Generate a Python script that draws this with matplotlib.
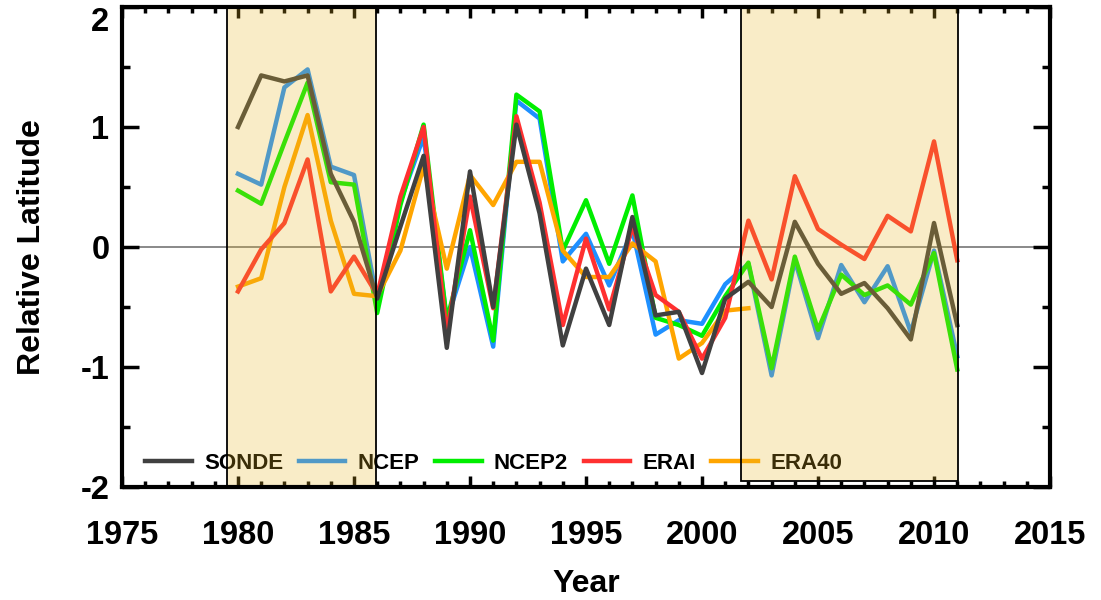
import numpy as np
import matplotlib
matplotlib.use("Agg")
import matplotlib.pyplot as plt
from matplotlib.ticker import MultipleLocator

plt.rcParams['font.family'] = ['Liberation Sans', 'DejaVu Sans']
plt.rcParams['font.weight'] = 'bold'
plt.rcParams['axes.labelweight'] = 'bold'

# yearly anomalies
years = np.arange(1980, 2012)
years_era40 = np.arange(1980, 2003)

sonde = [1.00, 1.43, 1.38, 1.43, 0.61, 0.21, -0.43, 0.17, 0.76, -0.84,
         0.63, -0.50, 1.02, 0.28, -0.82, -0.18, -0.65, 0.25, -0.57, -0.54,
         -1.05, -0.43, -0.29, -0.50, 0.21, -0.14, -0.39, -0.30, -0.51, -0.77,
         0.20, -0.65]
ncep = [0.61, 0.52, 1.33, 1.48, 0.67, 0.60, -0.45, 0.38, 0.92, -0.61,
        0.00, -0.83, 1.22, 1.07, -0.12, 0.11, -0.32, 0.14, -0.73, -0.61,
        -0.64, -0.31, -0.14, -1.07, -0.11, -0.76, -0.15, -0.46, -0.16, -0.71,
        -0.03, -0.91]
ncep2 = [0.47, 0.36, 0.87, 1.37, 0.54, 0.52, -0.55, 0.35, 1.02, -0.61,
         0.14, -0.78, 1.27, 1.13, -0.03, 0.39, -0.14, 0.43, -0.59, -0.65,
         -0.74, -0.41, -0.13, -1.01, -0.08, -0.69, -0.23, -0.40, -0.32, -0.48,
         -0.05, -1.02]
erai = [-0.37, -0.02, 0.20, 0.73, -0.37, -0.08, -0.40, 0.42, 1.00, -0.72,
        0.42, -0.51, 1.09, 0.37, -0.65, 0.07, -0.52, 0.17, -0.40, -0.54,
        -0.93, -0.59, 0.22, -0.27, 0.59, 0.15, 0.02, -0.10, 0.26, 0.13,
        0.88, -0.11]
era40 = [-0.33, -0.26, 0.50, 1.10, 0.22, -0.39, -0.41, -0.03, 0.67, -0.18,
         0.60, 0.35, 0.71, 0.71, -0.03, -0.25, -0.25, 0.03, -0.12, -0.93,
         -0.80, -0.53, -0.51]

# shaded periods (x0, x1, y0, y1)
periods = [(1979.53, 1985.93, -2.0, 2.0), (2001.68, 2011.05, -1.95, 2.0)]

fig = plt.figure(figsize=(11.01, 6.0), dpi=100)
ax = fig.add_axes([0.1108, 0.1883, 0.8429, 0.8000])

ax.axhline(0, color='#808080', lw=1.3, zorder=1)

l_ncep, = ax.plot(years, ncep, color='#1E90FF', lw=3.2, label='NCEP', zorder=2)
l_ncep2, = ax.plot(years, ncep2, color='#00EE00', lw=3.2, label='NCEP2', zorder=3)
l_era40, = ax.plot(years_era40, era40, color='#FFA500', lw=3.2, label='ERA40', zorder=3.5)
l_erai, = ax.plot(years, erai, color='#FF3030', lw=3.2, label='ERAI', zorder=4)
l_sonde, = ax.plot(years, sonde, color='#404040', lw=3.2, label='SONDE', zorder=4.5)

leg = ax.legend(handles=[l_sonde, l_ncep, l_ncep2, l_erai, l_era40],
                loc='center left', bbox_to_anchor=(0.025, 0.05), ncol=5,
                frameon=False, borderpad=0, borderaxespad=0,
                handlelength=2.1, handletextpad=0.55, columnspacing=0.7,
                prop={'weight': 'bold', 'size': 16})
leg.set_zorder(5)

for x0, x1, y0, y1 in periods:
    rect = plt.Rectangle((x0, y0), x1 - x0, y1 - y0,
                         facecolor=(235/255, 183/255, 35/255, 0.25),
                         edgecolor='black', lw=1.3, zorder=6)
    ax.add_patch(rect)

ax.set_xlim(1975, 2015)
ax.set_ylim(-2, 2)
ax.xaxis.set_major_locator(MultipleLocator(5))
ax.xaxis.set_minor_locator(MultipleLocator(1))
ax.yaxis.set_major_locator(MultipleLocator(1))
ax.yaxis.set_minor_locator(MultipleLocator(0.5))
ax.yaxis.set_major_formatter(plt.FuncFormatter(lambda v, p: '%d' % v))

ax.tick_params(axis='x', which='major', direction='in', top=True, length=8,
               width=2.5, pad=24, labelsize=23.5)
ax.tick_params(axis='x', which='minor', direction='in', top=True, length=4,
               width=2.5)
ax.tick_params(axis='y', which='major', direction='in', right=True, length=12,
               width=2.5, pad=9, labelsize=23.5)
ax.tick_params(axis='y', which='minor', direction='in', right=True, length=6,
               width=2.5)

for s in ax.spines.values():
    s.set_linewidth(3)
    s.set_zorder(7)

ax.set_xlabel('Year', fontsize=23, labelpad=13)
ax.set_ylabel('Relative Latitude', fontsize=23, labelpad=24)

# keep the top "2" label inside the figure
fig.canvas.draw()
for t in ax.yaxis.get_major_ticks():
    if abs(t.get_loc() - 2) < 1e-6:
        t.label1.set_verticalalignment('top')

fig.savefig('out.png', dpi=100)
